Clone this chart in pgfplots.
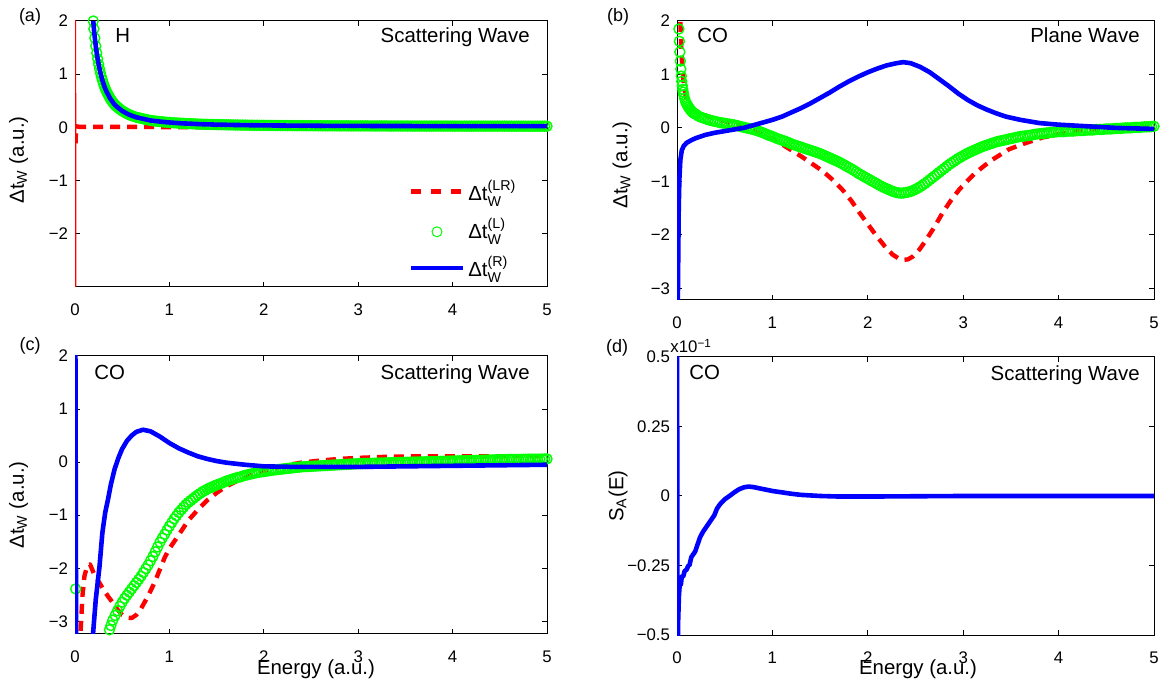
\documentclass[border=0pt]{standalone}
\usepackage{amsmath}
\usepackage{fontspec}
\setmainfont{Liberation Sans}
\usepackage{pgfplots}
\usepackage{pgfplotstable}
\pgfplotsset{compat=1.18}
\definecolor{mred}{RGB}{255,0,0}
\definecolor{mgreen}{RGB}{0,255,0}
\definecolor{mblue}{RGB}{0,0,255}
\newcommand\tickfont{\fontsize{8.4}{10}\selectfont}
\newcommand\labfont{\fontsize{10.2}{12}\selectfont}
\pgfplotsset{
  panel/.style={scale only axis, xmin=0, xmax=5, xtick={0,1,2,3,4,5}, xticklabels={0,1,2,3,4,5},
    tick align=inside, major tick length=2.5pt, axis line style={line width=0.5pt, black},
    every tick/.style={black, line width=0.5pt}, tick label style={font=\tickfont},
    xticklabel style={yshift=-5pt}, unbounded coords=jump, clip=true,
    clip mode=individual, clip marker paths=false},
  rline/.style={color=mred, line width=2.2pt, dash pattern=on 5pt off 3.5pt, line join=round},
  gmark/.style={color=mgreen, only marks, mark=o, mark size=2.5pt, mark options={line width=0.7pt}},
  bline/.style={color=mblue, line width=2.3pt, line join=round},
  rleg/.style={legend image code/.code={\draw[##1, dash pattern=on 5pt off 5pt] (0pt,0pt) -- (26pt,0pt);}},
  gleg/.style={legend image code/.code={\draw[##1, mark options={line width=0.5pt}] plot coordinates {(13pt,-1pt)};}},
  bleg/.style={legend image code/.code={\draw[##1] (0pt,0pt) -- (26pt,0pt);}},
}

% panel (a): H, Delta t^(L) and Delta t^(R) coincide
\pgfplotstableread{
E y
0.194 2.0
0.20 1.85
0.21 1.68
0.22 1.53
0.23 1.40
0.24 1.29
0.25 1.19
0.26 1.10
0.27 1.02
0.28 0.95
0.29 0.89
0.30 0.83
0.31 0.78
0.32 0.73
0.33 0.69
0.34 0.65
0.35 0.62
0.36 0.585
0.37 0.55
0.38 0.525
0.39 0.50
0.40 0.475
0.41 0.45
0.42 0.43
0.43 0.41
0.44 0.395
0.45 0.38
0.46 0.365
0.47 0.35
0.485 0.33
0.50 0.31
0.515 0.295
0.53 0.28
0.545 0.265
0.56 0.25
0.58 0.235
0.60 0.22
0.625 0.205
0.65 0.19
0.675 0.18
0.70 0.17
0.725 0.16
0.75 0.15
0.775 0.14
0.80 0.13
0.825 0.125
0.85 0.12
0.875 0.115
0.90 0.11
0.925 0.105
0.95 0.10
0.975 0.096
1.000 0.093
1.025 0.089
1.050 0.086
1.075 0.083
1.100 0.080
1.125 0.077
1.150 0.075
1.175 0.073
1.200 0.071
1.225 0.069
1.250 0.067
1.275 0.065
1.300 0.063
1.325 0.061
1.350 0.060
1.375 0.058
1.400 0.057
1.425 0.056
1.450 0.055
1.475 0.053
1.500 0.052
1.525 0.052
1.550 0.051
1.575 0.050
1.600 0.049
1.625 0.048
1.650 0.047
1.675 0.046
1.700 0.045
1.725 0.045
1.750 0.044
1.775 0.043
1.800 0.043
1.825 0.042
1.850 0.041
1.875 0.041
1.900 0.040
1.925 0.040
1.950 0.039
1.975 0.038
2.000 0.038
2.025 0.038
2.050 0.037
2.075 0.037
2.100 0.036
2.125 0.036
2.150 0.036
2.175 0.035
2.200 0.035
2.225 0.035
2.250 0.034
2.275 0.034
2.300 0.034
2.325 0.033
2.350 0.033
2.375 0.033
2.400 0.033
2.425 0.032
2.450 0.032
2.475 0.032
2.500 0.032
2.525 0.031
2.550 0.031
2.575 0.031
2.600 0.031
2.625 0.030
2.650 0.030
2.675 0.030
2.700 0.030
2.725 0.030
2.750 0.030
2.775 0.029
2.800 0.029
2.825 0.029
2.850 0.029
2.875 0.029
2.900 0.029
2.925 0.028
2.950 0.028
2.975 0.028
3.000 0.028
3.025 0.028
3.050 0.028
3.075 0.028
3.100 0.028
3.125 0.027
3.150 0.027
3.175 0.027
3.200 0.027
3.225 0.027
3.250 0.027
3.275 0.027
3.300 0.027
3.325 0.026
3.350 0.026
3.375 0.026
3.400 0.026
3.425 0.026
3.450 0.026
3.475 0.026
3.500 0.026
3.525 0.026
3.550 0.026
3.575 0.025
3.600 0.025
3.625 0.025
3.650 0.025
3.675 0.025
3.700 0.025
3.725 0.025
3.750 0.025
3.775 0.025
3.800 0.025
3.825 0.025
3.850 0.025
3.875 0.025
3.900 0.025
3.925 0.025
3.950 0.025
3.975 0.025
4.000 0.025
4.025 0.024
4.050 0.024
4.075 0.024
4.100 0.024
4.125 0.024
4.150 0.024
4.175 0.024
4.200 0.024
4.225 0.024
4.250 0.024
4.275 0.024
4.300 0.024
4.325 0.024
4.350 0.024
4.375 0.024
4.400 0.024
4.425 0.024
4.450 0.024
4.475 0.024
4.500 0.024
4.525 0.024
4.550 0.024
4.575 0.024
4.600 0.023
4.625 0.023
4.650 0.023
4.675 0.023
4.700 0.023
4.725 0.023
4.750 0.023
4.775 0.023
4.800 0.023
4.825 0.023
4.850 0.023
4.875 0.023
4.900 0.023
4.925 0.023
4.950 0.023
4.975 0.023
5.000 0.023
}\tabA

% panel (b): green (L)
\pgfplotstableread{
E y
0.020 1.85
0.025 1.62
0.030 1.42
0.035 1.25
0.040 1.10
0.045 0.97
0.050 0.87
0.055 0.79
0.060 0.72
0.065 0.67
0.070 0.62
0.080 0.55
0.090 0.49
0.10 0.45
0.11 0.42
0.12 0.39
0.13 0.365
0.14 0.34
0.15 0.32
0.16 0.30
0.17 0.285
0.18 0.27
0.19 0.26
0.20 0.25
0.225 0.22
0.25 0.20
0.275 0.185
0.300 0.17
0.325 0.155
0.350 0.14
0.375 0.13
0.400 0.12
0.425 0.11
0.450 0.10
0.475 0.093
0.500 0.085
0.525 0.078
0.550 0.07
0.575 0.063
0.600 0.055
0.625 0.045
0.650 0.035
0.675 0.022
0.700 0.01
0.725 0.0
0.750 -0.01
0.775 -0.02
0.800 -0.03
0.825 -0.045
0.850 -0.06
0.875 -0.075
0.900 -0.09
0.925 -0.11
0.950 -0.13
0.975 -0.145
1.000 -0.16
1.025 -0.18
1.050 -0.20
1.075 -0.215
1.100 -0.23
1.125 -0.245
1.150 -0.26
1.175 -0.28
1.200 -0.30
1.225 -0.315
1.250 -0.33
1.275 -0.345
1.300 -0.36
1.325 -0.375
1.350 -0.39
1.375 -0.405
1.400 -0.42
1.425 -0.435
1.450 -0.45
1.475 -0.465
1.500 -0.48
1.525 -0.50
1.550 -0.52
1.575 -0.54
1.600 -0.56
1.625 -0.58
1.650 -0.60
1.675 -0.62
1.700 -0.64
1.725 -0.665
1.750 -0.69
1.775 -0.715
1.800 -0.74
1.825 -0.765
1.850 -0.79
1.875 -0.82
1.900 -0.85
1.925 -0.875
1.950 -0.90
1.975 -0.925
2.000 -0.95
2.025 -0.975
2.050 -1.00
2.075 -1.025
2.100 -1.05
2.125 -1.075
2.150 -1.10
2.175 -1.12
2.200 -1.14
2.225 -1.16
2.250 -1.18
2.275 -1.195
2.300 -1.21
2.325 -1.217
2.350 -1.22
2.375 -1.217
2.400 -1.21
2.425 -1.20
2.450 -1.19
2.475 -1.17
2.500 -1.15
2.525 -1.125
2.550 -1.10
2.575 -1.07
2.600 -1.04
2.625 -1.005
2.650 -0.97
2.675 -0.935
2.700 -0.90
2.725 -0.865
2.750 -0.83
2.775 -0.795
2.800 -0.76
2.825 -0.725
2.850 -0.69
2.875 -0.66
2.900 -0.63
2.925 -0.60
2.950 -0.57
2.975 -0.545
3.000 -0.52
3.025 -0.495
3.050 -0.47
3.075 -0.45
3.100 -0.43
3.125 -0.41
3.150 -0.39
3.175 -0.37
3.200 -0.35
3.225 -0.335
3.250 -0.32
3.275 -0.305
3.300 -0.29
3.325 -0.275
3.350 -0.26
3.375 -0.25
3.400 -0.24
3.425 -0.23
3.450 -0.22
3.475 -0.21
3.500 -0.20
3.525 -0.19
3.550 -0.18
3.575 -0.17
3.600 -0.16
3.625 -0.155
3.650 -0.15
3.675 -0.145
3.700 -0.14
3.725 -0.13
3.750 -0.12
3.775 -0.115
3.800 -0.11
3.825 -0.105
3.850 -0.10
3.875 -0.095
3.900 -0.09
3.925 -0.085
3.950 -0.08
3.975 -0.075
4.000 -0.07
4.025 -0.07
4.050 -0.07
4.075 -0.065
4.100 -0.06
4.125 -0.06
4.150 -0.06
4.175 -0.055
4.200 -0.05
4.225 -0.05
4.250 -0.05
4.275 -0.045
4.300 -0.04
4.325 -0.04
4.350 -0.04
4.375 -0.035
4.400 -0.03
4.425 -0.03
4.450 -0.03
4.475 -0.025
4.500 -0.02
4.525 -0.02
4.550 -0.02
4.575 -0.015
4.600 -0.01
4.625 -0.01
4.650 -0.01
4.675 -0.005
4.700 0.00
4.725 0.00
4.750 0.00
4.775 0.005
4.800 0.01
4.825 0.01
4.850 0.01
4.875 0.015
4.900 0.02
4.925 0.02
4.950 0.02
4.975 0.025
5.000 0.03
}\tabBg

% panel (c): green (L)
\pgfplotstableread{
E y
0.007 -2.39
0.350 -3.26
0.365 -3.16
0.380 -3.08
0.400 -2.98
0.425 -2.89
0.450 -2.80
0.475 -2.72
0.500 -2.64
0.525 -2.57
0.550 -2.51
0.575 -2.45
0.600 -2.39
0.625 -2.33
0.650 -2.27
0.675 -2.21
0.700 -2.15
0.725 -2.08
0.750 -2.01
0.775 -1.94
0.800 -1.86
0.825 -1.78
0.850 -1.69
0.875 -1.60
0.900 -1.51
0.925 -1.43
0.950 -1.36
0.975 -1.28
1.000 -1.21
1.025 -1.14
1.050 -1.07
1.075 -1.01
1.100 -0.95
1.125 -0.90
1.150 -0.85
1.175 -0.80
1.200 -0.76
1.225 -0.725
1.250 -0.69
1.275 -0.655
1.300 -0.62
1.325 -0.59
1.350 -0.56
1.375 -0.535
1.400 -0.51
1.425 -0.49
1.450 -0.47
1.475 -0.45
1.500 -0.43
1.525 -0.415
1.550 -0.40
1.575 -0.38
1.600 -0.36
1.625 -0.345
1.650 -0.33
1.675 -0.315
1.700 -0.30
1.725 -0.29
1.750 -0.28
1.775 -0.265
1.800 -0.25
1.825 -0.24
1.850 -0.23
1.875 -0.22
1.900 -0.21
1.925 -0.20
1.950 -0.19
1.975 -0.185
2.000 -0.18
2.025 -0.172
2.050 -0.165
2.075 -0.157
2.100 -0.15
2.125 -0.145
2.150 -0.14
2.175 -0.135
2.200 -0.13
2.225 -0.125
2.250 -0.12
2.275 -0.115
2.300 -0.11
2.325 -0.105
2.350 -0.10
2.375 -0.095
2.400 -0.09
2.425 -0.087
2.450 -0.085
2.475 -0.082
2.500 -0.08
2.525 -0.077
2.550 -0.075
2.575 -0.072
2.600 -0.07
2.625 -0.067
2.650 -0.065
2.675 -0.062
2.700 -0.06
2.725 -0.057
2.750 -0.055
2.775 -0.052
2.800 -0.05
2.825 -0.047
2.850 -0.045
2.875 -0.042
2.900 -0.04
2.925 -0.037
2.950 -0.035
2.975 -0.032
3.000 -0.03
3.025 -0.029
3.050 -0.028
3.075 -0.026
3.100 -0.025
3.125 -0.023
3.150 -0.022
3.175 -0.021
3.200 -0.02
3.225 -0.018
3.250 -0.017
3.275 -0.016
3.300 -0.015
3.325 -0.013
3.350 -0.012
3.375 -0.011
3.400 -0.01
3.425 -0.008
3.450 -0.007
3.475 -0.006
3.500 -0.005
3.525 -0.003
3.550 -0.002
3.575 -0.001
3.600 0.0
3.625 0.001
3.650 0.002
3.675 0.004
3.700 0.005
3.725 0.006
3.750 0.007
3.775 0.009
3.800 0.01
3.825 0.011
3.850 0.012
3.875 0.014
3.900 0.015
3.925 0.016
3.950 0.017
3.975 0.019
4.000 0.02
4.025 0.021
4.050 0.022
4.075 0.024
4.100 0.025
4.125 0.026
4.150 0.027
4.175 0.029
4.200 0.03
4.225 0.031
4.250 0.032
4.275 0.034
4.300 0.035
4.325 0.036
4.350 0.037
4.375 0.039
4.400 0.04
4.425 0.041
4.450 0.042
4.475 0.044
4.500 0.045
4.525 0.046
4.550 0.047
4.575 0.049
4.600 0.05
4.625 0.05
4.650 0.05
4.675 0.05
4.700 0.05
4.725 0.051
4.750 0.052
4.775 0.054
4.800 0.055
4.825 0.055
4.850 0.055
4.875 0.055
4.900 0.055
4.925 0.056
4.950 0.058
4.975 0.059
5.000 0.06
}\tabCg

\begin{document}
\begin{tikzpicture}
\useasboundingbox (0,0) rectangle (585pt,339.5pt);

% ---------------- (a)
\begin{axis}[panel, at={(37.5pt,196pt)}, anchor=south west, width=236pt, height=133pt,
  ymin=-3, ymax=2, ytick={-2,-1,0,1,2}, yticklabels={−2,−1,0,1,2},
  legend style={draw=none, fill=none, at={(axis description cs:0.955,0.43)}, anchor=north east,
    row sep=4.5pt, font=\labfont, nodes={inner sep=1.5pt}},
  legend cell align=left]
\addplot[color=mred, line width=1pt, forget plot] coordinates {(0.002,2.5) (0.004,-3.5)};
\addplot[rline, rleg]
  coordinates {(0.006,-0.3) (0.012,0.02) (0.05,0.01) (0.5,0.01) (1,0.005) (2,0.0) (3,0.0) (4,0.0) (5,0.0)};
\addlegendentry{Δt$^{\text{(LR)}}_{\text{W}}$}
\addplot[gmark, gleg] table {\tabA};
\addlegendentry{Δt$^{\text{(L)}}_{\text{W}}$}
\addplot[bline, bleg] table {\tabA};
\addlegendentry{Δt$^{\text{(R)}}_{\text{W}}$}
\end{axis}

% ---------------- (b)
\begin{axis}[panel, at={(338.5pt,189.5pt)}, anchor=south west, width=238.5pt, height=139.5pt,
  ymin=-3.22, ymax=2, ytick={-3,-2,-1,0,1,2}, yticklabels={−3,−2,−1,0,1,2}]
\addplot[rline] coordinates {
(0.03,2.3) (0.035,2.0) (0.04,1.72) (0.046,1.45) (0.055,1.15) (0.07,0.83) (0.09,0.6) (0.12,0.46)
(0.16,0.36) (0.2,0.31) (0.25,0.26) (0.3,0.23) (0.37,0.19) (0.45,0.15) (0.51,0.12) (0.6,0.07)
(0.68,0.03) (0.77,-0.03) (0.86,-0.09) (0.95,-0.16) (1.04,-0.24) (1.12,-0.33) (1.21,-0.43)
(1.3,-0.53) (1.39,-0.64) (1.48,-0.75) (1.56,-0.86) (1.65,-1.0) (1.74,-1.17) (1.83,-1.37)
(1.91,-1.58) (2.0,-1.8) (2.09,-2.02) (2.18,-2.22) (2.26,-2.37) (2.32,-2.44) (2.37,-2.47)
(2.42,-2.46) (2.47,-2.41) (2.54,-2.28) (2.61,-2.1) (2.7,-1.85) (2.78,-1.6) (2.87,-1.36)
(2.96,-1.15) (3.05,-0.98) (3.13,-0.84) (3.22,-0.71) (3.31,-0.59) (3.4,-0.49) (3.48,-0.4)
(3.57,-0.34) (3.66,-0.28) (3.75,-0.23) (3.83,-0.18) (3.92,-0.15) (4.0,-0.12) (4.09,-0.09)
(4.18,-0.06) (4.27,-0.045) (4.35,-0.03) (4.5,-0.015) (4.7,0.0) (5.0,0.02)};
\addplot[gmark] table {\tabBg};
\addplot[bline] coordinates {
(0.008,-3.4) (0.012,-2.6) (0.018,-1.5) (0.025,-0.95) (0.035,-0.6) (0.05,-0.42) (0.07,-0.34)
(0.1,-0.28) (0.15,-0.23) (0.2,-0.19) (0.3,-0.13) (0.4,-0.09) (0.5,-0.06) (0.6,-0.03) (0.7,0.0)
(0.8,0.05) (0.9,0.1) (1.0,0.15) (1.1,0.21) (1.2,0.29) (1.3,0.37) (1.4,0.46) (1.5,0.56)
(1.6,0.66) (1.7,0.77) (1.8,0.87) (1.9,0.96) (2.0,1.04) (2.1,1.11) (2.2,1.17) (2.3,1.21)
(2.37,1.23) (2.45,1.21) (2.55,1.14) (2.65,1.04) (2.75,0.91) (2.85,0.78) (2.95,0.64)
(3.05,0.52) (3.15,0.42) (3.25,0.34) (3.35,0.27) (3.45,0.21) (3.6,0.15) (3.8,0.09) (4.0,0.06)
(4.2,0.04) (4.4,0.02) (4.6,0.0) (4.8,-0.01) (5.0,-0.02)};
\end{axis}

% ---------------- (c)
\begin{axis}[panel, at={(37.5pt,22.5pt)}, anchor=south west, width=236pt, height=139pt,
  ymin=-3.24, ymax=2, ytick={-3,-2,-1,0,1,2}, yticklabels={−3,−2,−1,0,1,2}]
\addplot[rline] coordinates {
(0.05,-3.5) (0.065,-3.0) (0.08,-2.5) (0.1,-2.15) (0.13,-1.95) (0.16,-1.93) (0.2,-2.1)
(0.25,-2.25) (0.3,-2.4) (0.35,-2.53) (0.4,-2.65) (0.45,-2.78) (0.5,-2.88) (0.55,-2.93)
(0.6,-2.94) (0.65,-2.88) (0.7,-2.76) (0.75,-2.6) (0.8,-2.43) (0.85,-2.24) (0.9,-2.02)
(0.95,-1.8) (1.0,-1.63) (1.1,-1.37) (1.2,-1.1) (1.3,-0.9) (1.4,-0.72) (1.5,-0.58)
(1.6,-0.46) (1.7,-0.37) (1.8,-0.29) (1.9,-0.22) (2.0,-0.17) (2.1,-0.12) (2.2,-0.08)
(2.3,-0.04) (2.4,-0.01) (2.6,0.03) (2.8,0.06) (3.0,0.08) (3.3,0.1) (3.6,0.11) (4.0,0.11)
(4.5,0.11) (5.0,0.11)};
\addplot[gmark] table {\tabCg};
\addplot[bline] coordinates {
(0.004,2.5) (0.012,-3.5) (0.1,-8) (0.17,-4.2) (0.19,-3.26) (0.22,-2.59) (0.26,-1.96)
(0.29,-1.33) (0.32,-0.95) (0.35,-0.7) (0.38,-0.42) (0.42,-0.13) (0.46,0.08) (0.5,0.25)
(0.55,0.4) (0.6,0.5) (0.65,0.57) (0.72,0.61) (0.8,0.58) (0.9,0.48) (1.0,0.36) (1.1,0.26)
(1.2,0.18) (1.3,0.11) (1.4,0.06) (1.5,0.02) (1.6,-0.01) (1.8,-0.05) (2.0,-0.08) (2.3,-0.09)
(3.0,-0.09) (4.0,-0.07) (5.0,-0.05)};
\end{axis}

% ---------------- (d)
\begin{axis}[panel, at={(338.5pt,22pt)}, anchor=south west, width=238.5pt, height=139pt,
  ymin=-0.5, ymax=0.5, ytick={-0.5,-0.25,0,0.25,0.5}, yticklabels={−0.5,−0.25,0,0.25,0.5}]
\addplot[bline] coordinates {
(0.001,0.7) (0.004,-0.7) (0.012,-0.45) (0.02,-0.36) (0.03,-0.31) (0.04,-0.32) (0.05,-0.29)
(0.065,-0.29) (0.08,-0.27) (0.1,-0.265) (0.12,-0.25) (0.13,-0.25) (0.15,-0.22) (0.17,-0.21)
(0.19,-0.2) (0.21,-0.18) (0.24,-0.15) (0.27,-0.13) (0.3,-0.115) (0.33,-0.1) (0.36,-0.085)
(0.39,-0.07) (0.42,-0.045) (0.45,-0.03) (0.5,-0.012) (0.55,0.0) (0.6,0.013) (0.65,0.024)
(0.7,0.031) (0.75,0.034) (0.8,0.032) (0.9,0.025) (1.0,0.018) (1.1,0.013) (1.2,0.008)
(1.3,0.004) (1.4,0.002) (1.5,0.0) (1.7,-0.002) (2.0,-0.002) (2.5,-0.001) (3.0,0.0) (4.0,0.0)
(5.0,0.0)};
\end{axis}

% ---------------- texts
\begingroup\labfont
\node[font=\fontsize{9}{10}\selectfont] at (15pt,331pt) {(a)};
\node[font=\fontsize{9}{10}\selectfont] at (309pt,331pt) {(b)};
\node[font=\fontsize{9}{10}\selectfont] at (15pt,166.5pt) {(c)};
\node[font=\fontsize{9}{10}\selectfont] at (308.5pt,165.5pt) {(d)};
\node[anchor=base west, inner sep=0pt] at (57.5pt,318pt) {H};
\node[anchor=base east, inner sep=0pt] at (265pt,318pt) {Scattering Wave};
\node[anchor=base west, inner sep=0pt] at (348.5pt,318pt) {CO};
\node[anchor=base east, inner sep=0pt] at (570pt,318pt) {Plane Wave};
\node[anchor=base west, inner sep=0pt] at (47pt,149.5pt) {CO};
\node[anchor=base east, inner sep=0pt] at (265pt,149.5pt) {Scattering Wave};
\node[anchor=base west, inner sep=0pt] at (344.5pt,149.5pt) {CO};
\node[anchor=base east, inner sep=0pt] at (570pt,149pt) {Scattering Wave};
\node[anchor=base west, inner sep=0pt, font=\tickfont] at (335pt,163pt) {x10\textsuperscript{−1}};
\node[anchor=base, inner sep=0pt] at (158pt,2.5pt) {Energy (a.u.)};
\node[anchor=base, inner sep=0pt] at (459pt,2.5pt) {Energy (a.u.)};
\node[rotate=90, inner sep=0pt] at (9.25pt,259.5pt) {Δt\textsubscript{W} (a.u.)};
\node[rotate=90, inner sep=0pt] at (311pt,257pt) {Δt\textsubscript{W} (a.u.)};
\node[rotate=90, inner sep=0pt] at (9.25pt,87pt) {Δt\textsubscript{W} (a.u.)};
\node[rotate=90, inner sep=0pt] at (309pt,91.5pt) {S\textsubscript{A}(E)};
\endgroup
\end{tikzpicture}
\end{document}
